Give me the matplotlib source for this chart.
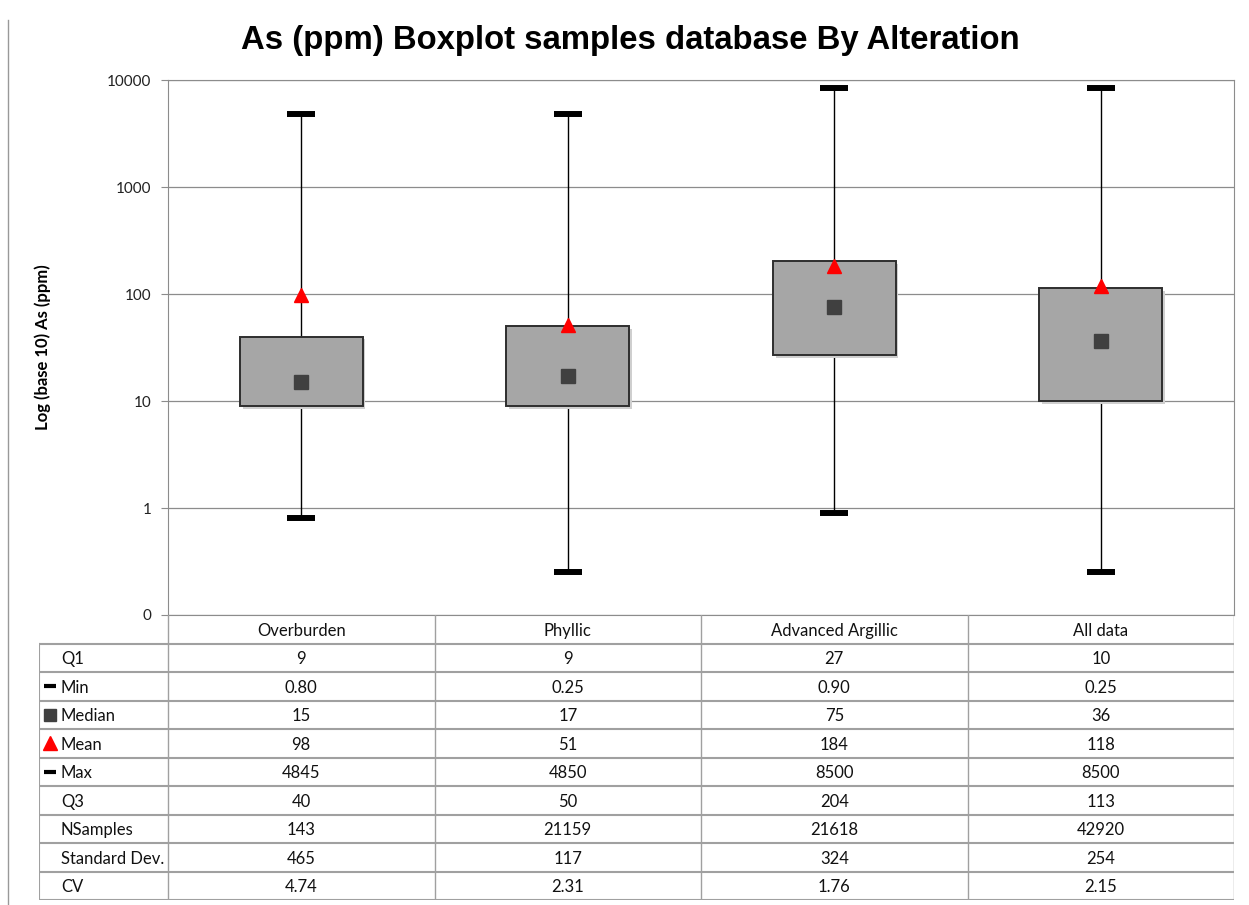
import matplotlib.pyplot as plt
import matplotlib.patheffects as pe
from matplotlib.lines import Line2D

categories = ["Overburden", "Phyllic", "Advanced Argillic", "All data"]
q1 = [9, 9, 27, 10]
mins = [0.80, 0.25, 0.90, 0.25]
medians = [15, 17, 75, 36]
means = [98, 51, 184, 118]
maxs = [4845, 4850, 8500, 8500]
q3 = [40, 50, 204, 113]
nsamples = [143, 21159, 21618, 42920]
std_dev = [465, 117, 324, 254]
cv = [4.74, 2.31, 1.76, 2.15]

row_labels = ["Q1", "Min", "Median", "Mean", "Max", "Q3", "NSamples", "Standard Dev.", "CV"]
row_values = [
    [str(v) for v in q1],
    ["%.2f" % v for v in mins],
    [str(v) for v in medians],
    [str(v) for v in means],
    [str(v) for v in maxs],
    [str(v) for v in q3],
    [str(v) for v in nsamples],
    [str(v) for v in std_dev],
    ["%.2f" % v for v in cv],
]

W, H = 1249, 905
fig = plt.figure(figsize=(W / 100, H / 100), dpi=100)
font = ["Lato", "DejaVu Sans"]
grid_c = "#8c8c8c"

# main plot area
ax = fig.add_axes([168 / W, (H - 615) / H, (1234 - 168) / W, (615 - 80) / H])
x = [i + 0.5 for i in range(len(categories))]

ax.vlines(x, mins, maxs, color="black", lw=1, zorder=2)
ax.hlines(mins, [v - 0.053 for v in x], [v + 0.053 for v in x], color="black", lw=4.3, zorder=4)
ax.hlines(maxs, [v - 0.053 for v in x], [v + 0.053 for v in x], color="black", lw=4.3, zorder=4)

bars = ax.bar(x, [b - a for a, b in zip(q1, q3)], bottom=q1, width=0.46,
              color="#a6a6a6", edgecolor="#2e2e2e", linewidth=1.4, zorder=3)
for b in bars:
    b.set_path_effects([pe.SimplePatchShadow(offset=(2, -2), shadow_rgbFace="#cfcfcf", alpha=1), pe.Normal()])

ax.plot(x, medians, "s", color="#404040", ms=9.5, zorder=5)
ax.plot(x, means, "^", color="red", ms=10, zorder=5)

ax.set_yscale("log")
ax.set_ylim(0.1, 10000)
ax.set_xlim(0, 4)
ax.set_yticks([0.1, 1, 10, 100, 1000, 10000])
ax.set_yticklabels(["0", "1", "10", "100", "1000", "10000"], fontsize=11, family=font, color="#222222")
ax.minorticks_off()
ax.set_xticks([])
ax.tick_params(axis="y", length=5, color=grid_c, pad=7)
ax.grid(axis="y", color=grid_c, lw=0.9)
ax.set_axisbelow(True)
for s in ax.spines.values():
    s.set_color(grid_c)
ax.set_ylabel("Log (base 10) As (ppm)", fontsize=12, family=font, fontweight="bold", labelpad=40)

fig.text(0.505, 0.955, "As (ppm) Boxplot samples database By Alteration",
         ha="center", va="center", fontsize=23.7, fontweight="bold", family=["Liberation Sans", "DejaVu Sans"])

# table below
lab_w = (168 - 39) / (1234 - 168) * 4
tab = fig.add_axes([39 / W, (H - 900) / H, (1234 - 39) / W, (900 - 615) / H])
tab.set_xlim(-lab_w, 4)
tab.set_ylim(len(row_labels) + 1, 0)
tab.axis("off")
tc = "#a0a0a0"
for j in range(5):
    tab.plot([j, j], [0, len(row_labels) + 1], color=tc, lw=1)
tab.plot([-lab_w, -lab_w], [1, len(row_labels) + 1], color=tc, lw=1.5)
for r in range(1, len(row_labels) + 2):
    tab.plot([-lab_w, 4], [r, r], color=tc, lw=1.5)
for i, c in enumerate(categories):
    tab.text(i + 0.5, 0.55, c, ha="center", va="center", fontsize=12, family=font, color="#111111")
for r, (lab, vals) in enumerate(zip(row_labels, row_values)):
    y = r + 1.55
    tab.text(-lab_w + 0.082, y, lab, ha="left", va="center", fontsize=12, family=font, color="#111111")
    for i, v in enumerate(vals):
        tab.text(i + 0.5, y, v, ha="center", va="center", fontsize=12, family=font, color="#111111")
mk = {"Min": ("_", "black", 9), "Max": ("_", "black", 9), "Median": ("s", "#404040", 9), "Mean": ("^", "red", 9.5)}
for r, lab in enumerate(row_labels):
    if lab in mk:
        m, c, s = mk[lab]
        tab.plot(-lab_w + 0.041, r + 1.5, m, color=c, ms=s, mew=3 if m == "_" else 1)

# stray line at the left edge of the picture
fig.add_artist(Line2D([8 / W, 8 / W], [0, 1 - 20 / H], color="#999999", lw=1))

fig.savefig("out.png", dpi=100)
